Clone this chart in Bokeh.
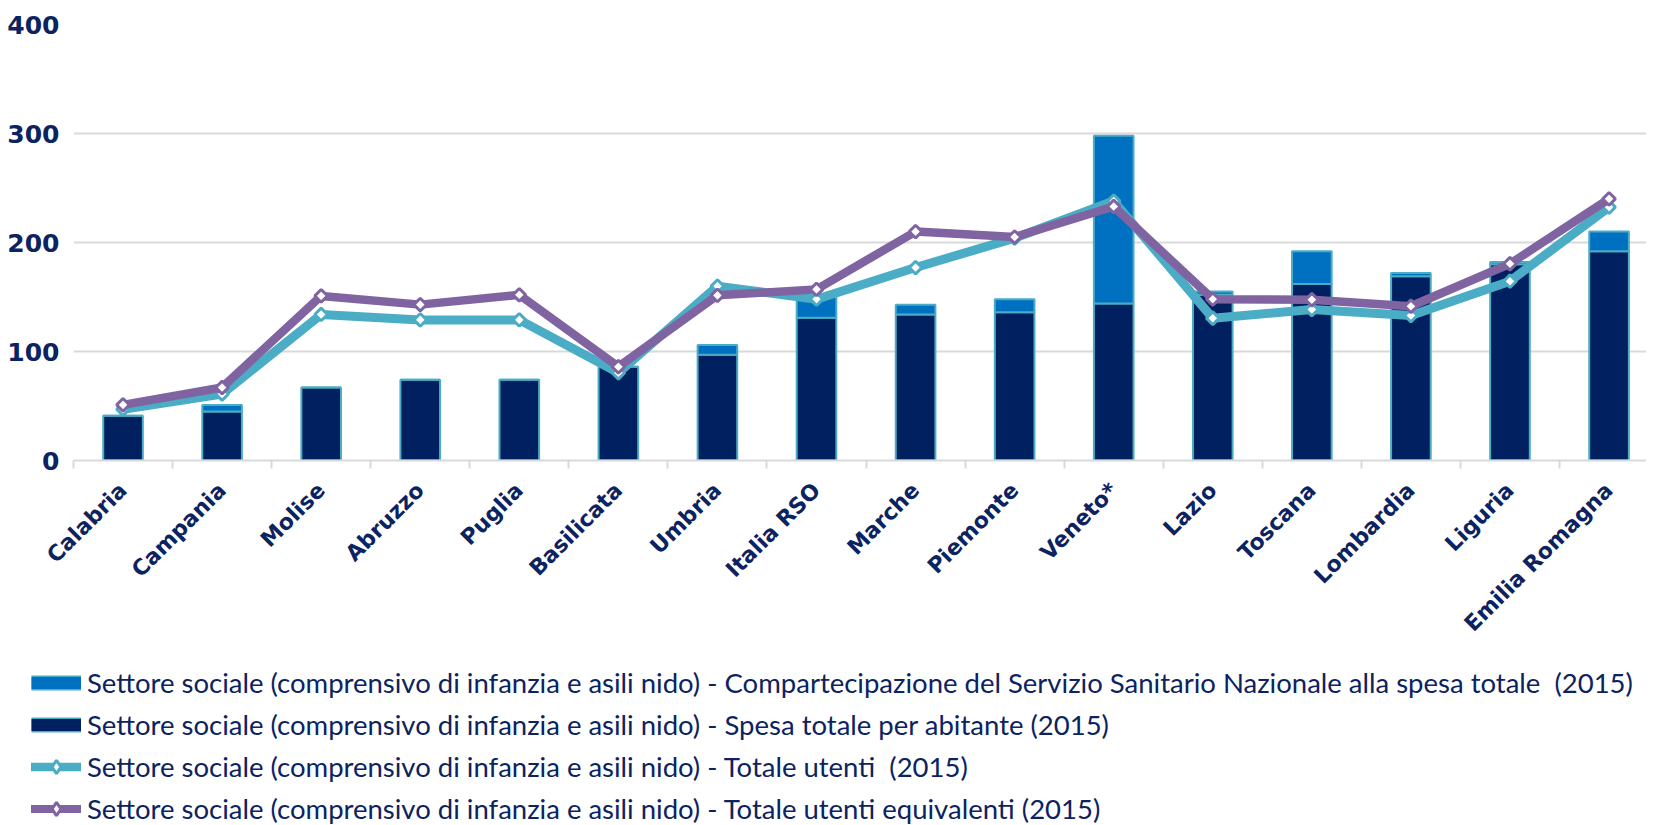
import math
from bokeh.plotting import figure
from bokeh.layouts import column
from bokeh.models import ColumnDataSource, FixedTicker, Legend, LegendItem, Range1d
from bokeh.embed import file_html
from bokeh.resources import INLINE

categories = ["Calabria", "Campania", "Molise", "Abruzzo", "Puglia", "Basilicata",
              "Umbria", "Italia RSO", "Marche", "Piemonte", "Veneto*", "Lazio",
              "Toscana", "Lombardia", "Liguria", "Emilia Romagna"]
spesa_totale = [41, 45, 67, 74, 74, 86, 97, 131, 134, 136, 144, 152, 162, 169, 180, 192]
compartecipazione_ssn = [0, 6, 0, 0, 0, 0, 9, 19, 9, 12, 154, 3, 30, 3, 2, 18]
totale_utenti = [47, 61, 134, 129, 129, 80.5, 160, 148, 177, 204, 238, 130.5, 138.5, 133, 164.5, 232.5]
utenti_equivalenti = [51, 67, 151, 143, 152, 86, 151.5, 157, 210, 205, 233, 148, 147.5, 141.5, 180.5, 240]
y_ticks = [0, 100, 200, 300, 400]

legend_labels = [
    "Settore sociale (comprensivo di infanzia e asili nido) - Compartecipazione del Servizio Sanitario Nazionale alla spesa totale  (2015)",
    "Settore sociale (comprensivo di infanzia e asili nido) - Spesa totale per abitante (2015)",
    "Settore sociale (comprensivo di infanzia e asili nido) - Totale utenti  (2015)",
    "Settore sociale (comprensivo di infanzia e asili nido) - Totale utenti equivalenti (2015)",
]

NAVY = "#002060"
BLUE = "#0070C0"
CYAN = "#4BACC6"
PURPLE = "#8064A2"
GRID = "#D9D9D9"
TEXT = "#0B2361"
AXIS_FONT = "DejaVu Sans"
LEGEND_FONT = "Lato"

xs = list(range(len(categories)))
src = ColumnDataSource(dict(x=xs, spesa=spesa_totale, comp=compartecipazione_ssn,
                            utenti=totale_utenti, equiv=utenti_equivalenti))

# ---------------- main chart ----------------
p = figure(width=1646, height=650, output_backend="svg", toolbar_location=None, tools="",
           x_range=Range1d(-0.5, 15.378), y_range=Range1d(0, 400),
           min_border_left=73, min_border_right=0, min_border_top=24, min_border_bottom=190)
p.frame_align = False
p.outline_line_color = None
p.background_fill_color = "white"
p.border_fill_color = "white"

bars = p.vbar_stack(["spesa", "comp"], x="x", width=0.4, source=src,
                    fill_color=[NAVY, BLUE], line_color=CYAN, line_width=2)

l1 = p.line("x", "utenti", source=src, line_color=CYAN, line_width=9, line_join="round")
m1 = p.scatter("x", "utenti", source=src, marker="square", angle=math.pi / 4, size=9,
               fill_color="white", line_color=CYAN, line_width=3)
l2 = p.line("x", "equiv", source=src, line_color=PURPLE, line_width=8.5, line_join="round")
m2 = p.scatter("x", "equiv", source=src, marker="square", angle=math.pi / 4, size=9,
               fill_color="white", line_color=PURPLE, line_width=3)

# y axis
p.yaxis.ticker = FixedTicker(ticks=y_ticks)
p.yaxis.axis_line_color = None
p.yaxis.major_tick_line_color = None
p.yaxis.major_tick_out = 0
p.yaxis.major_tick_in = 0
p.yaxis.minor_tick_line_color = None
p.yaxis.major_label_text_font = AXIS_FONT
p.yaxis.major_label_text_font_style = "bold"
p.yaxis.major_label_text_font_size = "25px"
p.yaxis.major_label_text_color = TEXT
p.yaxis.major_label_standoff = 14
p.ygrid.grid_line_color = GRID
p.ygrid.grid_line_width = 2
p.xgrid.grid_line_color = None

# x axis
p.xaxis.ticker = FixedTicker(ticks=xs, minor_ticks=[i - 0.5 for i in range(len(categories) + 1)])
p.xaxis.major_label_overrides = {i: c for i, c in enumerate(categories)}
p.xaxis.major_label_orientation = math.pi / 4
p.xaxis.axis_line_color = GRID
p.xaxis.axis_line_width = 2
p.xaxis.major_tick_line_color = None
p.xaxis.major_tick_out = 0
p.xaxis.major_tick_in = 0
p.xaxis.minor_tick_line_color = GRID
p.xaxis.minor_tick_line_width = 2
p.xaxis.minor_tick_in = 0
p.xaxis.minor_tick_out = 8
p.xaxis.major_label_text_font = AXIS_FONT
p.xaxis.major_label_text_font_style = "bold"
p.xaxis.major_label_text_font_size = "22px"
p.xaxis.major_label_text_color = TEXT
p.xaxis.major_label_standoff = 18

# ---------------- legend panel ----------------
lg = figure(width=1646, height=175, output_backend="svg", toolbar_location=None, tools="",
            x_range=Range1d(0, 1), y_range=Range1d(-2, -1),
            x_axis_location=None, y_axis_location=None,
            min_border_left=0, min_border_right=0, min_border_top=0, min_border_bottom=0)
lg.frame_align = False
lg.grid.visible = False
lg.outline_line_color = None
lg.background_fill_color = "white"
lg.border_fill_color = "white"

# legend swatch renderers (their data lie outside this panel's ranges, so only the legend shows)
sw_comp_border = lg.line("x", "comp", source=src, line_color=CYAN, line_width=15)
sw_comp_fill = lg.line("x", "comp", source=src, line_color=BLUE, line_width=12)
sw_spesa_border = lg.line("x", "spesa", source=src, line_color=CYAN, line_width=15)
sw_spesa_fill = lg.line("x", "spesa", source=src, line_color=NAVY, line_width=12)
sw_ut_line = lg.line("x", "utenti", source=src, line_color=CYAN, line_width=8.5, line_cap="round")
sw_ut_mark = lg.scatter("x", "utenti", source=src, marker="diamond", fill_color="white",
                        line_color=CYAN, line_width=3)
sw_eq_line = lg.line("x", "equiv", source=src, line_color=PURPLE, line_width=8, line_cap="round")
sw_eq_mark = lg.scatter("x", "equiv", source=src, marker="diamond", fill_color="white",
                        line_color=PURPLE, line_width=3)

legend = Legend(items=[
    LegendItem(label=legend_labels[0], renderers=[sw_comp_border, sw_comp_fill]),
    LegendItem(label=legend_labels[1], renderers=[sw_spesa_border, sw_spesa_fill]),
    LegendItem(label=legend_labels[2], renderers=[sw_ut_line, sw_ut_mark]),
    LegendItem(label=legend_labels[3], renderers=[sw_eq_line, sw_eq_mark]),
], location=(31, 0), orientation="vertical", padding=0, margin=0, spacing=9,
    glyph_width=50, glyph_height=33, label_height=33, label_standoff=6,
    label_text_font=LEGEND_FONT, label_text_font_size="27.5px", label_text_color=TEXT,
    background_fill_alpha=0, border_line_alpha=0)
lg.add_layout(legend)

layout = column(p, lg, spacing=0)
open("out.html", "w").write(file_html(layout, INLINE))
